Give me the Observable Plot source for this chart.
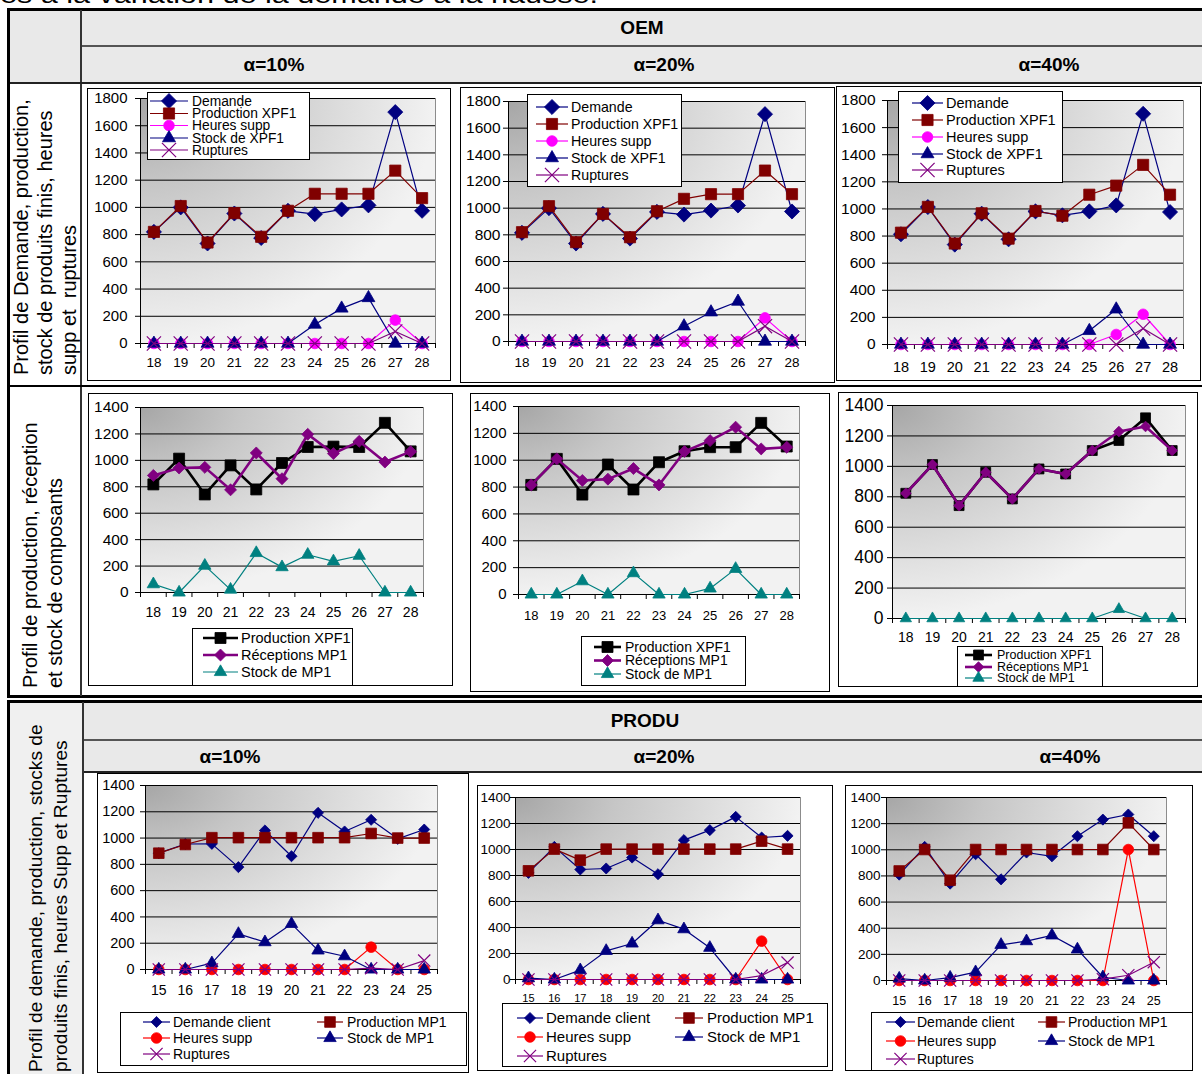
<!DOCTYPE html>
<html><head><meta charset="utf-8">
<script src="https://cdn.jsdelivr.net/npm/d3@7"></script>
<script src="https://cdn.jsdelivr.net/npm/@observablehq/plot@0.6"></script>
<style>
html,body{margin:0;padding:0;background:#fff;}
#page{position:relative;width:1202px;height:1074px;overflow:hidden;font-family:"Liberation Sans",Arial,Helvetica,sans-serif;color:#000;}
.a{position:absolute;box-sizing:border-box;}
.hdr{display:flex;align-items:center;justify-content:center;font-weight:bold;font-size:19px;}
.vl{transform:rotate(-90deg);font-size:20px;white-space:pre;display:flex;flex-direction:column;justify-content:center;}
</style></head><body><div id="page"></div>
<script>
// ---------------- DATA ----------------
const oemWeeks = [18, 19, 20, 21, 22, 23, 24, 25, 26, 27, 28];
const produWeeks = [15, 16, 17, 18, 19, 20, 21, 22, 23, 24, 25];
const yTicks1800 = [0, 200, 400, 600, 800, 1000, 1200, 1400, 1600, 1800];
const yTicks1400 = [0, 200, 400, 600, 800, 1000, 1200, 1400];

// OEM - profil de demande (alpha = 10%, 20%, 40%)
const oem10Demande   = [820, 1000, 735, 955, 775, 975, 950, 985, 1015, 1700, 975];
const oem10ProdXPF1  = [820, 1010, 742, 958, 784, 975, 1100, 1100, 1100, 1270, 1068];
const oem10Heures    = [0, 0, 0, 0, 0, 0, 0, 0, 0, 172, 0];
const oem10StockXPF1 = [0, 0, 0, 0, 0, 0, 140, 258, 335, 0, 0];
const oem10Ruptures  = [0, 0, 0, 0, 0, 0, 0, 0, 0, 88, 0];

const oem20Demande   = [815, 1000, 735, 957, 772, 972, 952, 982, 1020, 1705, 975];
const oem20ProdXPF1  = [820, 1015, 745, 957, 782, 977, 1070, 1105, 1105, 1282, 1105];
const oem20Heures    = [0, 0, 0, 0, 0, 0, 0, 0, 0, 177, 0];
const oem20StockXPF1 = [0, 0, 0, 0, 0, 0, 115, 220, 300, 0, 0];
const oem20Ruptures  = [0, 0, 0, 0, 0, 0, 0, 0, 0, 115, 0];

const oem40Demande   = [813, 1014, 737, 965, 776, 982, 953, 982, 1026, 1702, 977];
const oem40ProdXPF1  = [825, 1015, 745, 968, 781, 985, 950, 1105, 1172, 1325, 1105];
const oem40Heures    = [0, 0, 0, 0, 0, 0, 0, 0, 74, 223, 0];
const oem40StockXPF1 = [0, 0, 0, 0, 0, 0, 0, 101, 260, 0, 0];
const oem40Ruptures  = [0, 0, 0, 0, 0, 0, 0, 0, 0, 118, 0];

// OEM - profil de production, réception, stock de composants
const comp10Prod  = [818, 1013, 742, 962, 780, 980, 1101, 1104, 1101, 1284, 1068];
const comp10Recep = [886, 942, 947, 777, 1056, 861, 1197, 1051, 1144, 987, 1066];
const comp10Stock = [63, 0, 203, 22, 299, 192, 286, 236, 278, 0, 0];

const comp20Prod  = [816, 1010, 744, 968, 782, 985, 1067, 1097, 1097, 1278, 1102];
const comp20Recep = [816, 1010, 849, 859, 938, 816, 1065, 1146, 1246, 1084, 1097];
const comp20Stock = [0, 0, 99, 0, 159, 0, 0, 45, 191, 0, 0];

const comp40Prod  = [823, 1012, 742, 961, 786, 983, 950, 1104, 1170, 1319, 1104];
const comp40Recep = [823, 1012, 742, 961, 786, 983, 950, 1104, 1229, 1262, 1104];
const comp40Stock = [0, 0, 0, 0, 0, 0, 0, 0, 61, 0, 0];

// PRODU
const pro10Demande = [885, 955, 956, 779, 1058, 862, 1192, 1050, 1139, 994, 1065];
const pro10ProdMP1 = [885, 951, 1003, 1003, 1003, 1003, 1003, 1003, 1035, 1000, 1000];
const pro10Heures  = [0, 0, 0, 0, 0, 0, 0, 0, 170, 0, 0];
const pro10Stock   = [0, 0, 48, 271, 208, 347, 145, 101, 0, 0, 0];
const pro10Rupt    = [0, 0, 0, 0, 0, 0, 0, 0, 10, 0, 68];

const pro20Demande = [820, 1020, 846, 854, 938, 810, 1072, 1149, 1251, 1092, 1105];
const pro20ProdMP1 = [836, 1003, 918, 1003, 1003, 1003, 1003, 1003, 1003, 1064, 1003];
const pro20Heures  = [0, 0, 0, 0, 0, 0, 0, 0, 0, 295, 0];
const pro20Stock   = [10, 0, 72, 220, 277, 456, 387, 244, 0, 0, 0];
const pro20Rupt    = [0, 0, 0, 0, 0, 0, 0, 0, 0, 30, 130];

const pro40Demande = [810, 1022, 741, 966, 774, 979, 950, 1104, 1231, 1270, 1104];
const pro40ProdMP1 = [838, 1002, 767, 1002, 1002, 1002, 1002, 1002, 1002, 1206, 1002];
const pro40Heures  = [0, 0, 0, 0, 0, 0, 0, 0, 0, 1002, 0];
const pro40Stock   = [15, 0, 22, 64, 273, 301, 345, 238, 25, 0, 0];
const pro40Rupt    = [0, 0, 0, 0, 0, 0, 0, 0, 10, 40, 140];

// ---------------- STYLES ----------------
const stylesOem = {
  "Demande":         {color: "#000080", kind: "diamond",  lw: 1.2},
  "Production XPF1": {color: "#800000", kind: "square",   lw: 1.2},
  "Heures supp":     {color: "#ff00ff", kind: "circle",   lw: 1.2},
  "Stock de XPF1":   {color: "#000080", kind: "triangle", lw: 1.2},
  "Ruptures":        {color: "#800080", kind: "times",    lw: 1.2}
};
const stylesComp = {
  "Production XPF1": {color: "#000000", kind: "square",   lw: 2.6},
  "Réceptions MP1":  {color: "#800080", kind: "diamond",  lw: 2.6},
  "Stock de MP1":    {color: "#008080", kind: "triangle", lw: 1.2}
};
const stylesProdu = {
  "Demande client":  {color: "#000080", kind: "diamond",  lw: 1.2},
  "Production MP1":  {color: "#800000", kind: "square",   lw: 1.2},
  "Heures supp":     {color: "#ff0000", kind: "circle",   lw: 1.2},
  "Stock de MP1":    {color: "#000080", kind: "triangle", lw: 1.2},
  "Ruptures":        {color: "#800080", kind: "times",    lw: 1.2}
};
const symbols = {diamond: d3.symbolDiamond2, square: d3.symbolSquare, circle: d3.symbolCircle, triangle: d3.symbolTriangle, times: d3.symbolTimes};

const msOem  = {diamond: 6.8, square: 6.3, circle: 5.3, triangle: 4.8, times: 6.5};
const msComp1 = {diamond: 5.4, square: 6.2, triangle: 4.6};
const msComp3 = {diamond: 4.8, square: 5.6, triangle: 4.2};
const msProdu = {diamond: 5.0, square: 6.0, circle: 5.3, triangle: 4.6, times: 5.6};

const panels = [
  {id: "A1", weeks: oemWeeks, yMax: 1800, yTicks: yTicks1800, styles: stylesOem, ms: msOem,
   series: [["Demande", oem10Demande], ["Production XPF1", oem10ProdXPF1], ["Heures supp", oem10Heures], ["Stock de XPF1", oem10StockXPF1], ["Ruptures", oem10Ruptures]],
   box: [87, 88, 451, 381], plot: [140, 98, 435, 343], fy: 15, ydx: -13, fx: 13.5, xLabY: 362,
   legend: {box: [147, 92, 310, 160], cols: [[150, 188, 192]], rows: [101, 113.5, 125.5, 138, 150], font: 13.8}},
  {id: "A2", weeks: oemWeeks, yMax: 1800, yTicks: yTicks1800, styles: stylesOem, ms: msOem,
   series: [["Demande", oem20Demande], ["Production XPF1", oem20ProdXPF1], ["Heures supp", oem20Heures], ["Stock de XPF1", oem20StockXPF1], ["Ruptures", oem20Ruptures]],
   box: [460, 87, 835, 383], plot: [508, 101, 805, 341], fy: 15.5, ydx: -8, fx: 13.5, xLabY: 362,
   legend: {box: [527, 94, 682, 187], cols: [[536, 568, 571]], rows: [107, 124, 141, 158, 175], font: 14.2}},
  {id: "A3", weeks: oemWeeks, yMax: 1800, yTicks: yTicks1800, styles: stylesOem, ms: msOem,
   series: [["Demande", oem40Demande], ["Production XPF1", oem40ProdXPF1], ["Heures supp", oem40Heures], ["Stock de XPF1", oem40StockXPF1], ["Ruptures", oem40Ruptures]],
   box: [836, 86, 1201, 381], plot: [887, 100, 1183, 344], fy: 15.5, ydx: -12, fx: 14.5, xLabY: 367,
   legend: {box: [898, 91, 1063, 183], cols: [[912, 943, 946]], rows: [103, 120, 137, 154, 170], font: 14.5}},
  {id: "B1", weeks: oemWeeks, yMax: 1400, yTicks: yTicks1400, styles: stylesComp, ms: msComp1,
   series: [["Production XPF1", comp10Prod], ["Réceptions MP1", comp10Recep], ["Stock de MP1", comp10Stock]],
   box: [88, 393, 453, 686], plot: [140, 407, 423, 592], fy: 15.5, ydx: -12, fx: 14, xLabY: 612,
   legend: {box: [192, 628, 353, 686], cols: [[203, 238, 241]], rows: [638, 655, 672], font: 14.5}},
  {id: "B2", weeks: oemWeeks, yMax: 1400, yTicks: yTicks1400, styles: stylesComp, ms: msComp1,
   series: [["Production XPF1", comp20Prod], ["Réceptions MP1", comp20Recep], ["Stock de MP1", comp20Stock]],
   box: [470, 393, 830, 692], plot: [518, 406, 799, 594], fy: 15, ydx: -12, fx: 13, xLabY: 615,
   legend: {box: [581, 636, 746, 686], cols: [[594, 621, 625]], rows: [647, 660.5, 674], font: 14}},
  {id: "B3", weeks: oemWeeks, yMax: 1400, yTicks: yTicks1400, styles: stylesComp, ms: msComp3,
   series: [["Production XPF1", comp40Prod], ["Réceptions MP1", comp40Recep], ["Stock de MP1", comp40Stock]],
   box: [838, 392, 1198, 687], plot: [892, 405, 1185, 618], fy: 17.5, ydx: -9, fx: 14, xLabY: 637,
   legend: {box: [957, 646, 1103, 687], cols: [[965, 992, 997]], rows: [655, 667, 678], font: 12.5}},
  {id: "C1", weeks: produWeeks, yMax: 1400, yTicks: yTicks1400, styles: stylesProdu, ms: msProdu,
   series: [["Demande client", pro10Demande], ["Production MP1", pro10ProdMP1], ["Heures supp", pro10Heures], ["Stock de MP1", pro10Stock], ["Ruptures", pro10Rupt]],
   box: [97, 773, 469, 1073], plot: [145, 785, 437, 969], fy: 14.5, ydx: -11, fx: 14, xLabY: 990,
   legend: {box: [120, 1012, 467, 1066], cols: [[143, 170, 173], [317, 343, 347]], rows: [1022, 1038, 1054], font: 14}},
  {id: "C2", weeks: produWeeks, yMax: 1400, yTicks: yTicks1400, styles: stylesProdu, ms: msProdu,
   series: [["Demande client", pro20Demande], ["Production MP1", pro20ProdMP1], ["Heures supp", pro20Heures], ["Stock de MP1", pro20Stock], ["Ruptures", pro20Rupt]],
   box: [477, 785, 833, 1071], plot: [515, 797, 800, 979], fy: 13.5, ydx: -5, fx: 11, xLabY: 998,
   legend: {box: [502, 1003, 828, 1067], cols: [[517, 543, 546], [675, 703, 707]], rows: [1018, 1037, 1056], font: 15}},
  {id: "C3", weeks: produWeeks, yMax: 1400, yTicks: yTicks1400, styles: stylesProdu, ms: msProdu,
   series: [["Demande client", pro40Demande], ["Production MP1", pro40ProdMP1], ["Heures supp", pro40Heures], ["Stock de MP1", pro40Stock], ["Ruptures", pro40Rupt]],
   box: [845, 785, 1193, 1071], plot: [886, 797, 1166, 980], fy: 13.5, ydx: -6, fx: 12.5, xLabY: 1000,
   legend: {box: [871, 1012, 1193, 1071], cols: [[886, 915, 917], [1038, 1065, 1068]], rows: [1022, 1041, 1059], font: 14}}
];

// ---------------- LAYOUT HELPERS ----------------
const page = document.getElementById("page");
function div(x, y, w, h, css, html) {
  const d = document.createElement("div");
  d.className = "a";
  d.style.cssText = `left:${x}px;top:${y}px;width:${w}px;height:${h}px;` + (css || "");
  if (html != null) d.innerHTML = html;
  page.appendChild(d);
  return d;
}

// partial sentence at the very top (cut off in the source)
const topSvg = d3.create("svg").attr("width", 620).attr("height", 7)
  .style("position", "absolute").style("left", "0px").style("top", "0px").style("overflow", "hidden");
topSvg.append("text").attr("x", 0).attr("y", 3).attr("textLength", 598).attr("lengthAdjust", "spacingAndGlyphs")
  .attr("font-family", "'Liberation Sans', Arial, sans-serif").attr("font-size", 24)
  .text("es à la variation de la demande à la hausse.");
page.appendChild(topSvg.node());

// ---- Table 1 (OEM) ----
div(10, 11, 1195, 72, "background:#e9e9e9;");
div(7, 8, 1202, 690, "border:3px solid #000;");
div(80, 10, 2, 686, "background:#333;");
div(82, 45, 1125, 2, "background:#555;");
div(10, 82, 1195, 2, "background:#222;");
div(10, 385, 1195, 2, "background:#000;");
const h1 = div(242, 11, 800, 34, "", "OEM"); h1.className = "a hdr";
[[274, "α=10%"], [664, "α=20%"], [1049, "α=40%"]].forEach(([cx, t]) => { const d = div(cx - 80, 47, 160, 35, "", t); d.className = "a hdr"; });

// ---- Table 2 (PRODU) ----
div(10, 703, 1195, 380, "background:#f0f0f0;");
div(84, 773, 1121, 310, "background:#fff;");
div(84, 703, 1121, 70, "background:#e9e9e9;");
div(7, 700, 1202, 390, "border:3px solid #000;");
div(82, 702, 2, 380, "background:#333;");
div(84, 739, 1121, 2, "background:#555;");
div(84, 771, 1121, 2, "background:#222;");
const h2 = div(245, 703, 800, 36, "", "PRODU"); h2.className = "a hdr";
[[230, "α=10%"], [664, "α=20%"], [1070, "α=40%"]].forEach(([cx, t]) => { const d = div(cx - 80, 741, 160, 31, "", t); d.className = "a hdr"; });

// rotated row labels
function vlabel(cx, cy, W, H, lh, pad, fs, lines) {
  const d = div(cx - W / 2, cy - H / 2, W, H, `line-height:${lh}px;padding-left:${pad}px;font-size:${fs}px;`, lines.map(l => `<div>${l}</div>`).join(""));
  d.className = "a vl";
}
vlabel(45, 235, 290, 72, 24, 5, 20, ["Profil de Demande, production,", "stock de produits finis, heures", "supp et  ruptures"]);
vlabel(42.5, 540, 300, 50, 25, 2, 20, ["Profil de production, réception", "et stock de composants"]);
vlabel(47.5, 894, 364, 50, 25, 4, 19.2, ["Profil de demande, production, stocks de", "produits finis, heures Supp et Ruptures"]);

// ---------------- CHARTS ----------------
function drawPanel(p) {
  const [bx0, by0, bx1, by1] = p.box, [px0, py0, px1, py1] = p.plot;
  const W = bx1 - bx0, H = by1 - by0;
  const weeks = p.weeks;
  const xmin = weeks[0] - 0.5, xmax = weeks[weeks.length - 1] + 0.5;
  const pxPerX = (px1 - px0) / (xmax - xmin);
  const pxPerY = (py1 - py0) / p.yMax;
  const boundaries = d3.range(weeks[0] - 0.5, weeks[weeks.length - 1] + 1, 1);
  const gid = "grad" + p.id;
  const marks = [
    Plot.frame({fill: `url(#${gid})`}),
    Plot.ruleY(p.yTicks, {stroke: "#000", strokeWidth: 1}),
    Plot.ruleX([xmax], {stroke: "#8c8c8c", strokeWidth: 1}),
    Plot.ruleX([xmin], {stroke: "#000", strokeWidth: 1}),
    Plot.ruleY(p.yTicks, {x1: () => xmin - 5 / pxPerX, x2: () => xmin, stroke: "#000"}),
    Plot.ruleX(boundaries, {x: d => d, y1: () => 0, y2: () => -5 / pxPerY, stroke: "#000"}),
    Plot.text(p.yTicks, {x: () => xmin, y: d => d, text: d => String(d), textAnchor: "end", dx: p.ydx, fontSize: p.fy, fill: "#000"}),
    Plot.text(weeks, {x: d => d, y: () => 0, text: d => String(d), dy: p.xLabY - py1, fontSize: p.fx, fill: "#000"})
  ];
  p.series.forEach(([name, values]) => {
    const st = p.styles[name];
    const data = weeks.map((w, i) => ({week: w, value: values[i]}));
    marks.push(Plot.line(data, {x: "week", y: "value", stroke: st.color, strokeWidth: st.lw}));
    const isTimes = st.kind === "times";
    marks.push(Plot.dot(data, {x: "week", y: "value", symbol: symbols[st.kind], r: p.ms[st.kind],
      fill: isTimes ? "none" : st.color, stroke: st.color, strokeWidth: isTimes ? 1.2 : 0.8}));
  });
  const svg = Plot.plot({
    width: W, height: H,
    marginLeft: px0 - bx0, marginRight: bx1 - px1, marginTop: py0 - by0, marginBottom: by1 - py1,
    x: {domain: [xmin, xmax], axis: null},
    y: {domain: [0, p.yMax], axis: null},
    style: {background: "white", fontFamily: "'Liberation Sans', Arial, sans-serif", overflow: "visible"},
    marks
  });
  const defs = d3.select(svg).insert("defs", ":first-child");
  const g = defs.append("radialGradient").attr("id", gid).attr("cx", 0).attr("cy", 0).attr("r", 1).attr("fx", 0).attr("fy", 0);
  [[0, "#a6a6a6"], [0.35, "#c6c6c6"], [0.7, "#dedede"], [1, "#f2f2f2"]].forEach(([o, c]) => g.append("stop").attr("offset", o).attr("stop-color", c));
  svg.style.position = "absolute";
  svg.style.left = bx0 + "px";
  svg.style.top = by0 + "px";
  page.appendChild(svg);
  div(bx0, by0, W, H, "border:1px solid #000;pointer-events:none;");
  drawLegend(p);
}

function drawLegend(p) {
  const L = p.legend;
  const [lx0, ly0, lx1, ly1] = L.box;
  const ncols = L.cols.length;
  const svg = d3.create("svg").attr("width", lx1 - lx0).attr("height", ly1 - ly0)
    .style("position", "absolute").style("left", lx0 + "px").style("top", ly0 + "px")
    .style("font-family", "'Liberation Sans', Arial, sans-serif");
  svg.append("rect").attr("x", 0.5).attr("y", 0.5).attr("width", lx1 - lx0 - 1).attr("height", ly1 - ly0 - 1).attr("fill", "#fff").attr("stroke", "#000");
  p.series.forEach(([name], i) => {
    const st = p.styles[name];
    const col = L.cols[i % ncols];
    const y = L.rows[Math.floor(i / ncols)] - ly0;
    const a = col[0] - lx0, b = col[1] - lx0, t = col[2] - lx0;
    svg.append("line").attr("x1", a).attr("x2", b).attr("y1", y).attr("y2", y).attr("stroke", st.color).attr("stroke-width", st.lw);
    const r = p.ms[st.kind];
    const isTimes = st.kind === "times";
    svg.append("path").attr("d", d3.symbol(symbols[st.kind], Math.PI * r * r)())
      .attr("transform", `translate(${(a + b) / 2},${y})`)
      .attr("fill", isTimes ? "none" : st.color).attr("stroke", st.color).attr("stroke-width", isTimes ? 1.2 : 0.8);
    svg.append("text").attr("x", t).attr("y", y).attr("dy", "0.35em").attr("font-size", L.font).attr("fill", "#000").text(name);
  });
  page.appendChild(svg.node());
}

panels.forEach(drawPanel);
</script></body></html>
